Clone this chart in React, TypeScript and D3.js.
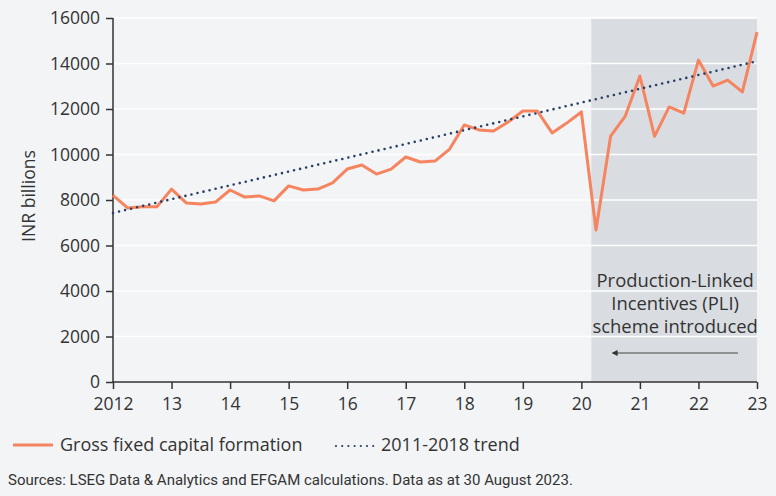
import { useEffect, useRef } from 'react';
import * as d3 from 'd3';

// quarterly gross fixed capital formation, INR billions, 2012Q1 .. 2023Q1
const gfcf = [
  8200, 7650, 7700, 7700, 8480, 7870, 7820, 7910,
  8440, 8130, 8180, 7960, 8620, 8440, 8480, 8750,
  9360, 9540, 9140, 9360, 9890, 9670, 9710, 10240,
  11300, 11080, 11030, 11430, 11910, 11910, 10950, 11380,
  11870, 6680, 10810, 11690, 13450, 10800, 12090, 11820,
  14150, 13010, 13270, 12750, 15380,
];
const startYear = 2012;
const quarters = gfcf.map((_, i) => startYear + i / 4);

// 2011-2018 linear trend, extended to the end of the chart
const trendYears = [2012, 2023];
const trendValues = [7430, 14100];

const yTicks = [0, 2000, 4000, 6000, 8000, 10000, 12000, 14000, 16000];
const xTicks = [2012, 2013, 2014, 2015, 2016, 2017, 2018, 2019, 2020, 2021, 2022, 2023];
const xTickLabels = ['2012', '13', '14', '15', '16', '17', '18', '19', '20', '21', '22', '23'];

const pliStart = 2020.17;
const pliEnd = 2023;
const pliNote = ['Production-Linked', 'Incentives (PLI)', 'scheme introduced'];

const W = 776;
const H = 496;
const FONT = '"Open Sans", "Noto Sans", sans-serif';
const SMALL_FONT = 'Roboto, sans-serif';
const TEXT = '#333333';
const CORAL = '#f5845f';
const NAVY = '#2b3f63';

const App = () => {
  const svgRef = useRef<SVGSVGElement | null>(null);

  useEffect(() => {
    if (!svgRef.current) return;
    const svg = d3.select(svgRef.current);
    svg.selectAll('*').remove();

    const x = d3.scaleLinear().domain([2012, 2023]).range([113, 757]);
    const y = d3.scaleLinear().domain([0, 16000]).range([382, 18]);

    svg.append('rect').attr('width', W).attr('height', H).attr('fill', '#f2f4f6');

    // PLI shaded period
    svg.append('rect')
      .attr('x', x(pliStart))
      .attr('y', y(16000))
      .attr('width', x(pliEnd) - x(pliStart))
      .attr('height', y(0) - y(16000))
      .attr('fill', '#d9dde1');

    // gridlines
    svg.append('g')
      .selectAll('line')
      .data(yTicks.filter(d => d > 0))
      .enter()
      .append('line')
      .attr('x1', x(2012))
      .attr('x2', x(2023))
      .attr('y1', d => y(d))
      .attr('y2', d => y(d))
      .attr('stroke', '#ffffff')
      .attr('stroke-width', 1.6);

    // Y axis
    const yAxis = svg.append('g')
      .attr('transform', `translate(${x(2012)},0)`)
      .call(d3.axisLeft(y).tickValues(yTicks).tickSize(7).tickPadding(6).tickFormat(d => `${d}`));
    yAxis.selectAll('text').style('font-family', FONT).style('font-size', '17.5px').attr('fill', TEXT);

    // X axis
    const xAxis = svg.append('g')
      .attr('transform', `translate(0,${y(0)})`)
      .call(d3.axisBottom(x).tickValues(xTicks).tickSize(7).tickPadding(9)
        .tickFormat((_, i) => xTickLabels[i]));
    xAxis.selectAll('text').style('font-family', FONT).style('font-size', '17.5px').attr('fill', TEXT);

    [yAxis, xAxis].forEach(a => {
      a.select('.domain').attr('stroke', '#333').attr('stroke-width', 1.5);
      a.selectAll('.tick line').attr('stroke', '#333').attr('stroke-width', 1.5);
    });
    xAxis.select('.domain').attr('d', `M${x(2012)},0H${x(2023)}`);
    yAxis.select('.domain').attr('d', `M0,${y(16000)}V${y(0)}`);

    // axis title
    svg.append('text')
      .attr('transform', `translate(35,196) rotate(-90)`)
      .attr('text-anchor', 'middle')
      .style('font-family', FONT)
      .style('font-size', '17.6px')
      .attr('fill', TEXT)
      .text('INR billions');

    // GFCF line
    const line = d3.line<number>()
      .x((_, i) => x(quarters[i]))
      .y(d => y(d));
    svg.append('path')
      .datum(gfcf)
      .attr('fill', 'none')
      .attr('stroke', CORAL)
      .attr('stroke-width', 3)
      .attr('stroke-linejoin', 'round')
      .attr('d', line);

    // trend
    const trendLine = d3.line<number>()
      .x((_, i) => x(trendYears[i]))
      .y(d => y(d));
    svg.append('path')
      .datum(trendValues)
      .attr('fill', 'none')
      .attr('stroke', NAVY)
      .attr('stroke-width', 2.6)
      .attr('stroke-linecap', 'round')
      .attr('stroke-dasharray', '0 6.2')
      .attr('d', trendLine);

    // annotation
    const noteX = (x(pliStart) + x(pliEnd)) / 2 + 1;
    svg.append('g')
      .selectAll('text')
      .data(pliNote)
      .enter()
      .append('text')
      .attr('x', noteX)
      .attr('y', (_, i) => 287 + i * 23)
      .attr('text-anchor', 'middle')
      .style('font-family', FONT)
      .style('font-size', '18.4px')
      .attr('fill', TEXT)
      .text(d => d);

    svg.append('defs').append('marker')
      .attr('id', 'arrowhead')
      .attr('viewBox', '0 0 10 10')
      .attr('refX', 1)
      .attr('refY', 5)
      .attr('markerWidth', 6)
      .attr('markerHeight', 6)
      .attr('orient', 'auto-start-reverse')
      .append('path')
      .attr('d', 'M0,0L10,5L0,10z')
      .attr('fill', '#333');

    svg.append('line')
      .attr('x1', 738)
      .attr('x2', 617)
      .attr('y1', 353)
      .attr('y2', 353)
      .attr('stroke', '#444')
      .attr('stroke-width', 1)
      .attr('marker-end', 'url(#arrowhead)');

    // legend
    const lg = svg.append('g');
    lg.append('line')
      .attr('x1', 13).attr('x2', 53).attr('y1', 445).attr('y2', 445)
      .attr('stroke', CORAL).attr('stroke-width', 3);
    lg.append('text')
      .attr('x', 60).attr('y', 451)
      .style('font-family', FONT).style('font-size', '18px').attr('fill', TEXT)
      .text('Gross fixed capital formation');
    lg.append('line')
      .attr('x1', 336).attr('x2', 374).attr('y1', 446).attr('y2', 446)
      .attr('stroke', NAVY).attr('stroke-width', 2.2)
      .attr('stroke-linecap', 'round').attr('stroke-dasharray', '0 6.2');
    lg.append('text')
      .attr('x', 381).attr('y', 451)
      .style('font-family', FONT).style('font-size', '18px').attr('fill', TEXT)
      .text('2011-2018 trend');

    svg.append('text')
      .attr('x', 8).attr('y', 485)
      .style('font-family', SMALL_FONT).style('font-size', '15px').attr('fill', TEXT)
      .text('Sources: LSEG Data & Analytics and EFGAM calculations. Data as at 30 August 2023.');
  }, []);

  return (
    <div style={{ position: 'fixed', left: 0, top: 0 }}>
      <svg ref={svgRef} width={W} height={H} style={{ display: 'block' }} />
    </div>
  );
};

export default App;
